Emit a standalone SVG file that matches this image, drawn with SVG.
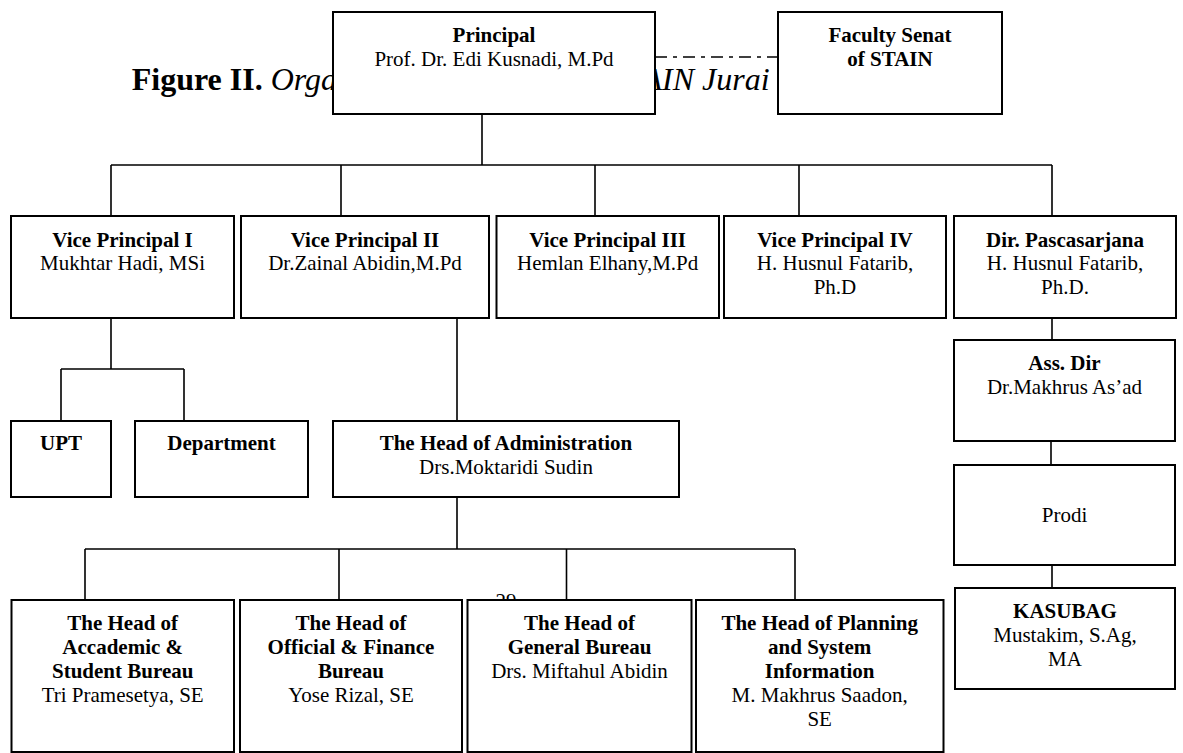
<svg xmlns="http://www.w3.org/2000/svg" width="1183" height="753" viewBox="0 0 1183 753">
<style>
text{font-family:"Liberation Serif","Times New Roman",serif;font-size:21px;fill:#000;text-anchor:middle}
.b{font-weight:bold}
.box{fill:#fff;stroke:#000;stroke-width:2}
.ln{fill:none;stroke:#000;stroke-width:1.6}
.dash{fill:none;stroke:#000;stroke-width:1.6;stroke-dasharray:12 6 4 6}
.title{font-size:32px;text-anchor:start}
</style>
<rect width="1183" height="753" fill="#fff"/>
<text class="title" x="131.7" y="90"><tspan font-weight="bold">Figure II.</tspan><tspan font-style="italic"> Organizational Structure of IAIN Jurai Siwo Metro</tspan></text>
<text x="506" y="608">29</text>
<g id="connectors">
<path class="dash" d="M655 57H778"/>
<path class="ln" d="M482 114V165M111 165H1052M111 165V216M341 165V216M595 165V216M799 165V216M1052 165V216"/>
<path class="ln" d="M111 318V369M61 369H184M61 369V421M184 369V421"/>
<path class="ln" d="M457 318V421M457 497V549M85 549H795M85 549V600M339 549V600M566.5 549V600M795 549V600"/>
<path class="ln" d="M1052 318V340M1051 441V465M1052 565V588"/>
</g>
<g id="principal"><rect class="box" x="333" y="12" width="322" height="102"/><text class="b" x="494" y="42">Principal</text><text x="494" y="66">Prof. Dr. Edi Kusnadi, M.Pd</text></g>
<g id="faculty-senat"><rect class="box" x="778" y="12" width="224" height="102"/><text class="b" x="890" y="42">Faculty Senat</text><text class="b" x="890" y="65.5">of STAIN</text></g>
<g id="vp1"><rect class="box" x="11" y="216" width="223" height="102"/><text class="b" x="122.5" y="246.5">Vice Principal I</text><text x="122.5" y="270">Mukhtar Hadi, MSi</text></g>
<g id="vp2"><rect class="box" x="241" y="216" width="248" height="102"/><text class="b" x="365" y="246.5">Vice Principal II</text><text x="365" y="270">Dr.Zainal Abidin,M.Pd</text></g>
<g id="vp3"><rect class="box" x="496.5" y="216" width="222.5" height="102"/><text class="b" x="607.7" y="246.5">Vice Principal III</text><text x="607.7" y="270">Hemlan Elhany,M.Pd</text></g>
<g id="vp4"><rect class="box" x="724" y="216" width="222" height="102"/><text class="b" x="835" y="246.5">Vice Principal IV</text><text x="835" y="270">H. Husnul Fatarib,</text><text x="835" y="294">Ph.D</text></g>
<g id="dir-pascasarjana"><rect class="box" x="954" y="216" width="222" height="102"/><text class="b" x="1065" y="246.5">Dir. Pascasarjana</text><text x="1065" y="270">H. Husnul Fatarib,</text><text x="1065" y="294">Ph.D.</text></g>
<g id="upt"><rect class="box" x="11" y="421" width="100" height="76"/><text class="b" x="61" y="450">UPT</text></g>
<g id="department"><rect class="box" x="135" y="421" width="173" height="76"/><text class="b" x="221.5" y="450">Department</text></g>
<g id="head-administration"><rect class="box" x="333" y="421" width="346" height="76"/><text class="b" x="506" y="450">The Head of Administration</text><text x="506" y="474">Drs.Moktaridi Sudin</text></g>
<g id="ass-dir"><rect class="box" x="954" y="340" width="221" height="101"/><text class="b" x="1064.5" y="370">Ass. Dir</text><text x="1064.5" y="394">Dr.Makhrus As’ad</text></g>
<g id="prodi"><rect class="box" x="954" y="465" width="221" height="100"/><text x="1064.5" y="522">Prodi</text></g>
<g id="kasubag"><rect class="box" x="955" y="588" width="220" height="101"/><text class="b" x="1065" y="618">KASUBAG</text><text x="1065" y="642">Mustakim, S.Ag,</text><text x="1065" y="666">MA</text></g>
<g id="head-academic"><rect class="box" x="11.5" y="600" width="222.5" height="152"/><text class="b" x="122.7" y="630">The Head of</text><text class="b" x="122.7" y="654">Accademic &amp;</text><text class="b" x="122.7" y="678">Student Bureau</text><text x="122.7" y="702">Tri Pramesetya, SE</text></g>
<g id="head-finance"><rect class="box" x="240" y="600" width="222" height="152"/><text class="b" x="351" y="630">The Head of</text><text class="b" x="351" y="654">Official &amp; Finance</text><text class="b" x="351" y="678">Bureau</text><text x="351" y="702">Yose Rizal, SE</text></g>
<g id="head-general"><rect class="box" x="467.5" y="600" width="224" height="152"/><text class="b" x="579.5" y="630">The Head of</text><text class="b" x="579.5" y="654">General Bureau</text><text x="579.5" y="678">Drs. Miftahul Abidin</text></g>
<g id="head-planning"><rect class="box" x="696" y="600" width="247.5" height="152"/><text class="b" x="819.7" y="630">The Head of Planning</text><text class="b" x="819.7" y="654">and System</text><text class="b" x="819.7" y="678">Information</text><text x="819.7" y="702">M. Makhrus Saadon,</text><text x="819.7" y="726">SE</text></g>
</svg>
